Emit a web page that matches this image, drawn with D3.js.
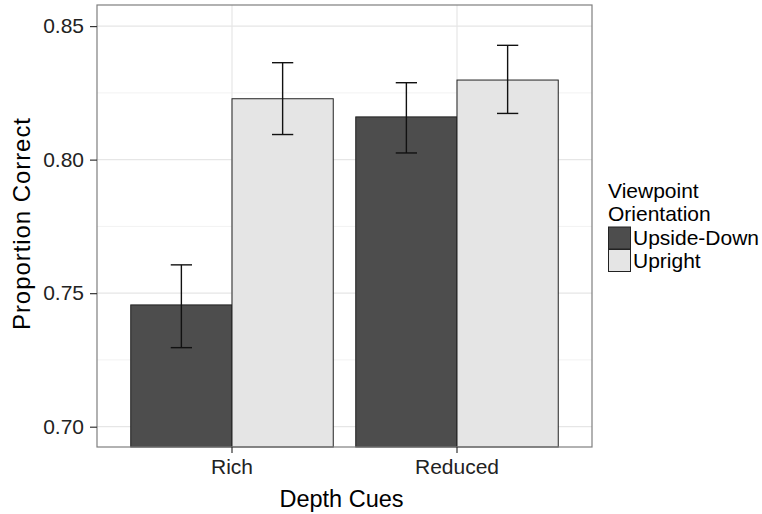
<!DOCTYPE html>
<html>
<head>
<meta charset="utf-8">
<title>Proportion Correct by Depth Cues</title>
<script src="https://cdn.jsdelivr.net/npm/d3@7"></script>
<style>
    body { margin: 0; background: #fff; }
    text { font-family: "Liberation Sans", Arial, sans-serif; }
</style>
</head>
<body>
<script>
    // data
    var cues = ["Rich", "Reduced"];
    var orientations = ["Upside-Down", "Upright"];
    var means = [[0.7456, 0.8228], [0.8160, 0.8298]];
    var lower = [[0.7296, 0.8094], [0.8025, 0.8173]];
    var upper = [[0.7606, 0.8363], [0.8288, 0.8428]];
    var yTicks = [0.70, 0.75, 0.80, 0.85];
    var yMinor = [0.725, 0.775, 0.825];
    var fills = ["#4d4d4d", "#e5e5e5"];

    // note: "top" is taken by window.top, so use p* names
    var w = 762, h = 514,
        pLeft = 97, pTop = 5, pRight = 592, pBottom = 447;

    var svg = d3.select("body").append("svg")
        .attr("width", w).attr("height", h);

    var x0 = d3.scaleBand().domain(cues).range([pLeft, pRight])
        .paddingInner(0.1).paddingOuter(0.15);
    var x1 = d3.scaleBand().domain(orientations).range([0, x0.bandwidth()]);
    var y = d3.scaleLinear().domain([0.6924, 0.8579]).range([pBottom, pTop]);

    // panel grid
    var grid = svg.append("g");
    grid.selectAll(".minor").data(yMinor).enter().append("line")
        .attr("x1", pLeft).attr("x2", pRight)
        .attr("y1", function (d) { return y(d); })
        .attr("y2", function (d) { return y(d); })
        .attr("stroke", "#f2f2f2").attr("stroke-width", 1);
    grid.selectAll(".major").data(yTicks).enter().append("line")
        .attr("x1", pLeft).attr("x2", pRight)
        .attr("y1", function (d) { return y(d); })
        .attr("y2", function (d) { return y(d); })
        .attr("stroke", "#e6e6e6").attr("stroke-width", 1.2);
    grid.selectAll(".xmajor").data(cues).enter().append("line")
        .attr("x1", function (d) { return x0(d) + x0.bandwidth() / 2; })
        .attr("x2", function (d) { return x0(d) + x0.bandwidth() / 2; })
        .attr("y1", pTop).attr("y2", pBottom)
        .attr("stroke", "#e6e6e6").attr("stroke-width", 1.2);

    // bars
    var rows = [];
    cues.forEach(function (c, i) {
        orientations.forEach(function (o, j) {
            rows.push({cue: c, ori: o, j: j, m: means[i][j], lo: lower[i][j], hi: upper[i][j]});
        });
    });

    svg.append("g").selectAll("rect").data(rows).enter().append("rect")
        .attr("x", function (d) { return x0(d.cue) + x1(d.ori); })
        .attr("y", function (d) { return y(d.m); })
        .attr("width", x1.bandwidth())
        .attr("height", function (d) { return pBottom - y(d.m); })
        .attr("fill", function (d) { return fills[d.j]; })
        .attr("stroke", "#222").attr("stroke-width", 1);

    // error bars
    var cap = x1.bandwidth() * 0.21;
    var eb = svg.append("g").attr("stroke", "#111").attr("stroke-width", 1.4);
    rows.forEach(function (d) {
        var cx = x0(d.cue) + x1(d.ori) + x1.bandwidth() / 2;
        eb.append("line").attr("x1", cx).attr("x2", cx)
            .attr("y1", y(d.lo)).attr("y2", y(d.hi));
        [d.lo, d.hi].forEach(function (v) {
            eb.append("line").attr("x1", cx - cap / 2).attr("x2", cx + cap / 2)
                .attr("y1", y(v)).attr("y2", y(v));
        });
    });

    // panel border
    svg.append("rect")
        .attr("x", pLeft).attr("y", pTop)
        .attr("width", pRight - pLeft).attr("height", pBottom - pTop)
        .attr("fill", "none").attr("stroke", "#7f7f7f").attr("stroke-width", 1.2);

    // axes
    var yAxis = d3.axisLeft(y).tickValues(yTicks).tickFormat(d3.format(".2f"))
        .tickSize(7).tickPadding(6);
    var gy = svg.append("g").attr("transform", "translate(" + pLeft + ",0)").call(yAxis);
    var xAxis = d3.axisBottom(x0).tickSize(6).tickPadding(6);
    var gx = svg.append("g").attr("transform", "translate(0," + pBottom + ")").call(xAxis);

    [gy, gx].forEach(function (g) {
        g.select(".domain").remove();
        g.selectAll(".tick line").attr("stroke", "#333").attr("stroke-width", 1.2);
        g.selectAll(".tick text")
            .attr("fill", "#222")
            .style("font-size", "21px")
            .style("font-family", "'Liberation Sans', Arial, sans-serif");
    });

    // axis titles
    svg.append("text")
        .attr("x", (pLeft + pRight) / 2 - 3).attr("y", 507)
        .attr("text-anchor", "middle")
        .style("font-size", "23.5px").attr("fill", "#000")
        .text("Depth Cues");
    svg.append("text")
        .attr("transform", "translate(30,224) rotate(-90)")
        .attr("text-anchor", "middle")
        .attr("textLength", 212).attr("lengthAdjust", "spacing")
        .style("font-size", "24px").attr("fill", "#000")
        .text("Proportion Correct");

    // legend
    var lg = svg.append("g").attr("transform", "translate(608,0)");
    lg.append("text").attr("x", 0).attr("y", 198)
        .style("font-size", "21px").attr("fill", "#000").text("Viewpoint");
    lg.append("text").attr("x", 0).attr("y", 221)
        .style("font-size", "21px").attr("fill", "#000").text("Orientation");
    orientations.forEach(function (o, j) {
        var ky = 227 + j * 22.5;
        lg.append("rect").attr("x", 0.5).attr("y", ky)
            .attr("width", 22).attr("height", 22)
            .attr("fill", fills[j]).attr("stroke", "#222").attr("stroke-width", 1);
        lg.append("text").attr("x", 25).attr("y", ky + 18)
            .style("font-size", "21px").attr("fill", "#000").text(o);
    });
</script>
</body>
</html>
